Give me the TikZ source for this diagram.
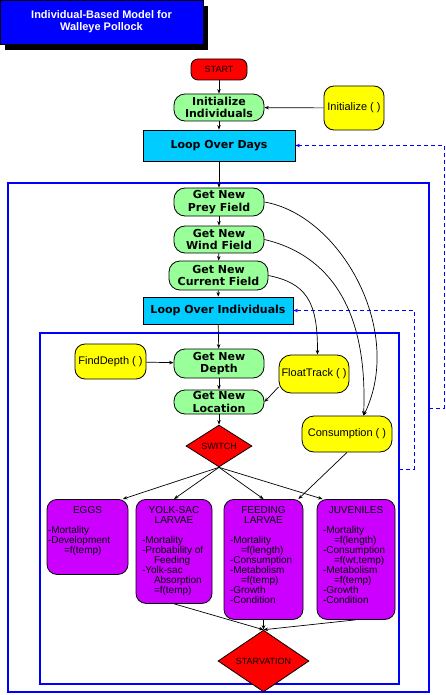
\documentclass[tikz,border=0pt]{standalone}
\usepackage{fontspec}
\setmainfont{Liberation Sans}
\newfontfamily\blockfont{DejaVu Sans}
\usepackage{tikz}
\usepackage{xcolor}
\usetikzlibrary{arrows.meta, shapes.geometric, shadows}
\definecolor{ibmblue}{RGB}{0, 0, 255}
\definecolor{ibmred}{RGB}{255, 0, 0}
\definecolor{ibmgreen}{RGB}{153, 255, 153}
\definecolor{ibmyellow}{RGB}{255, 255, 0}
\definecolor{ibmcyan}{RGB}{0, 204, 255}
\definecolor{ibmpurple}{RGB}{204, 0, 255}
\newcommand{\stagetext}[3]{\parbox[t][#1][t]{#2}{\fontsize{10pt}{10pt}\selectfont\raggedright #3}}
\tikzset{
    flownode/.style={draw, line width=0.8pt, inner sep=1pt, align=center},
    titlenode/.style={draw=black, fill=ibmblue, text=white, align=center, minimum width=203pt, minimum height=44pt,
        font=\bfseries\fontsize{11pt}{12pt}\selectfont,
        drop shadow={shadow xshift=5pt, shadow yshift=-6pt, fill=black, opacity=1}},
    termnode/.style={flownode, fill=ibmred, rounded corners=7pt, font=\fontsize{9pt}{10pt}\selectfont},
    stepnode/.style={flownode, fill=ibmgreen, rounded corners=11pt, font=\blockfont\bfseries\fontsize{11pt}{12.5pt}\selectfont},
    loopnode/.style={flownode, fill=ibmcyan, font=\blockfont\bfseries\fontsize{11pt}{12.5pt}\selectfont},
    callnode/.style={flownode, fill=ibmyellow, rounded corners=10pt, font=\fontsize{11pt}{12pt}\selectfont},
    testnode/.style={flownode, diamond, fill=ibmred, inner sep=0pt, font=\fontsize{9pt}{10pt}\selectfont},
    stagenode/.style={flownode, fill=ibmpurple, rounded corners=10pt, anchor=north, inner xsep=6pt, inner ysep=7pt, align=left},
    flow/.style={line width=0.7pt, -{Stealth[length=4.5pt, width=3.5pt]}},
    loopback/.style={draw=ibmblue, line width=1pt, dash pattern=on 4pt off 3pt, -{Stealth[length=4.5pt, width=3.5pt]}},
    loopframe/.style={draw=ibmblue, line width=1.2pt}
}

\begin{document}
\begin{tikzpicture}[x=1pt, y=-1pt]
    \useasboundingbox (0,0) rectangle (445,695);

    \draw[loopframe] (8,183) rectangle (429,692);
    \draw[loopframe] (40,333) rectangle (399,684);
    \coordinate (dayback) at (429,408);
    \coordinate (indback) at (399,469);

    \node[titlenode] (title) at (101.5,22) {Individual-Based Model for\\Walleye Pollock};

    \node[termnode, minimum width=56pt, minimum height=21pt] (start) at (219,69.5) {START};
    \node[stepnode, minimum width=90pt, minimum height=27pt] (initind) at (219,107.5) {Initialize\\Individuals};
    \node[callnode, minimum width=60pt, minimum height=44pt] (initfn) at (354,108) {Initialize ( )};
    \node[loopnode, minimum width=152pt, minimum height=31pt] (lod) at (219,145.5) {Loop Over Days};
    \node[stepnode, minimum width=90pt, minimum height=28pt] (prey) at (219,202) {Get New\\Prey Field};
    \node[stepnode, minimum width=90pt, minimum height=27pt] (wind) at (219,239.5) {Get New\\Wind Field};
    \node[stepnode, minimum width=99pt, minimum height=29pt] (curr) at (218.5,275.5) {Get New\\Current Field};
    \node[loopnode, minimum width=150pt, minimum height=27pt] (loi) at (218,310.5) {Loop Over Individuals};
    \node[stepnode, minimum width=90pt, minimum height=29pt] (depth) at (219,363.5) {Get New\\Depth};
    \node[callnode, minimum width=71pt, minimum height=35pt] (finddepth) at (110.5,361.5) {FindDepth ( )};
    \node[callnode, minimum width=70pt, minimum height=38pt, rounded corners=12pt] (float) at (314,374) {FloatTrack ( )};
    \node[stepnode, minimum width=90pt, minimum height=24pt] (loc) at (219,402) {Get New\\Location};
    \node[testnode, minimum width=66pt, minimum height=32pt] (switch) at (219,446) {SWITCH};
    \node[callnode, minimum width=90pt, minimum height=36pt, rounded corners=12pt] (cons) at (347,434) {Consumption ( )};

    \node[stagenode, inner xsep=1pt] (eggs) at (87.5,499) {\stagetext{61pt}{79pt}{{\centering EGGS\par}\mbox{}\par
        -Mortality\\ -Development\\ \hspace*{16pt}=f(temp)}};
    \node[stagenode] (yolk) at (174,499) {\stagetext{90pt}{64pt}{{\centering YOLK-SAC\\ LARVAE\par}\mbox{}\par
        -Mortality\\ -Probability of\\ \hspace*{12pt}Feeding\\ -Yolk-sac\\ \hspace*{12pt}Absorption\\ \hspace*{12pt}=f(temp)}};
    \node[stagenode] (feed) at (263.5,499) {\stagetext{106pt}{67pt}{{\centering FEEDING\\ LARVAE\par}\mbox{}\par
        -Mortality\\ \hspace*{11pt}=f(length)\\ -Consumption\\ -Metabolism\\ \hspace*{11pt}=f(temp)\\ -Growth\\ -Condition}};
    \node[stagenode] (juv) at (356,499) {\stagetext{106pt}{66pt}{{\centering JUVENILES\par}\mbox{}\par
        -Mortality\\ \hspace*{11pt}=f(length)\\ -Consumption\\ \hspace*{11pt}=f(wt,temp)\\ -Metabolism\\ \hspace*{11pt}=f(temp)\\ -Growth\\ -Condition}};
    \node[testnode, minimum width=91pt, minimum height=38pt] (starv) at (263.5,661) {STARVATION};

    \draw[flow] (start) -- (initind);
    \draw[flow] (initfn) -- (initind);
    \draw[flow] (initind) -- (lod);
    \draw[flow] (lod) -- (prey);
    \draw[flow] (prey) -- (wind);
    \draw[flow] (wind) -- (curr);
    \draw[flow] (curr) -- (loi);
    \draw[flow] (loi) -- (depth);
    \draw[flow] (finddepth) -- (depth);
    \draw[flow] (depth) -- (loc);
    \draw[flow] (float.200) -- (loc.east);
    \draw[flow] (loc) -- (switch);
    \draw[flow] (prey.east) .. controls (340,215) and (405,330) .. (cons.48);
    \draw[flow] (wind.east) .. controls (330,255) and (368,310) .. (cons.48);
    \draw[flow] (curr.east) .. controls (305,283) and (318,300) .. (float.80);
    \draw[flow] (switch.south) -- (eggs.47);
    \draw[flow] (switch.south) -- (yolk.north);
    \draw[flow] (switch.south) -- (feed.north);
    \draw[flow] (switch.south) -- (juv.119);
    \draw[flow] (cons.south) -- (feed.60);
    \draw[flow] (yolk.south) -- (starv.north);
    \draw[flow] (feed.south) -- (starv.north);
    \draw[flow] (juv.south) -- (starv.north);

    \draw[loopback] (dayback) -- ++(15,0) |- (lod.east);
    \draw[loopback] (indback) -- ++(15,0) |- (loi.east);
\end{tikzpicture}
\end{document}
